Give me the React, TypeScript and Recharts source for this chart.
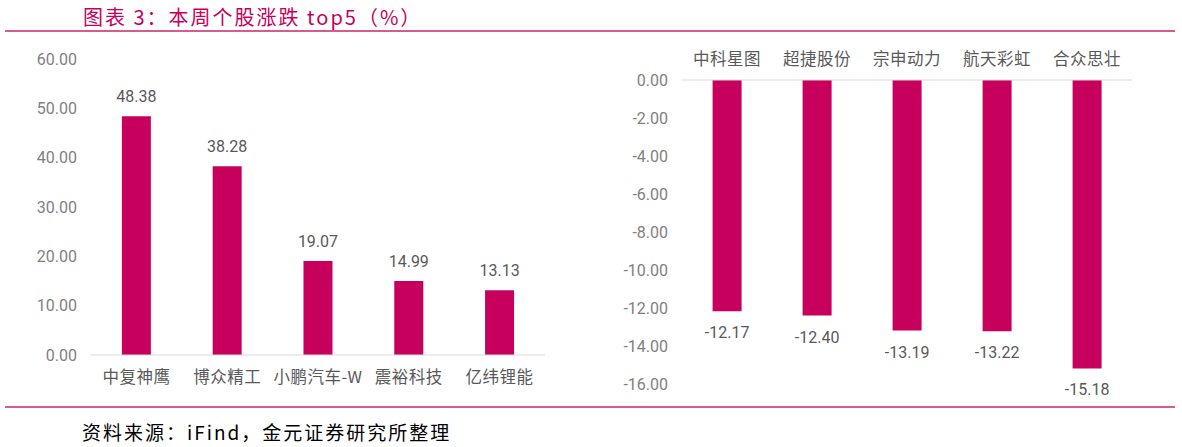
import { BarChart, Bar, XAxis, YAxis, LabelList } from 'recharts';

const gainNames = ['中复神鹰', '博众精工', '小鹏汽车-W', '震裕科技', '亿纬锂能'];
const gainValues = [48.38, 38.28, 19.07, 14.99, 13.13];
const gainTicks = [0, 10, 20, 30, 40, 50, 60];

const lossNames = ['中科星图', '超捷股份', '宗申动力', '航天彩虹', '合众思壮'];
const lossValues = [-12.17, -12.4, -13.19, -13.22, -15.18];
const lossTicks = [0, -2, -4, -6, -8, -10, -12, -14, -16];

const BAR = '#C7005D';
const PINK_LINE = '#D85A8E';
const NUM_FONT = 'Roboto, "Liberation Sans", sans-serif';
const CJK_FONT = '"Noto Sans CJK SC", sans-serif';

const gainData = gainNames.map((name, i) => ({ name, value: gainValues[i] }));
const lossData = lossNames.map((name, i) => ({ name, value: lossValues[i] }));

// label above positive bars, below negative ones
const BarLabel = (props: any) => {
  const { x, y, width, height, value } = props;
  const top = Math.min(y, y + height);
  const bottom = Math.max(y, y + height);
  const ty = value >= 0 ? top - 14 : bottom + 27;
  return (
    <text x={x + width / 2} y={ty} textAnchor="middle" fill="#595959" fontSize={16} fontFamily={NUM_FONT}>
      {value.toFixed(2)}
    </text>
  );
};

const tickStyle = { fill: '#7F7F7F', fontSize: 16, fontFamily: NUM_FONT };
const catStyle = { fill: '#595959', fontSize: 16.5, fontFamily: CJK_FONT, letterSpacing: 0.5 };

export default function App() {
  return (
    <div style={{ position: 'fixed', left: 0, top: 0, width: 1182, height: 447, background: '#fff' }}>
      <div
        style={{
          position: 'absolute', left: 83, top: 4, fontSize: 20, color: '#C8005A', letterSpacing: 2,
          fontFamily: CJK_FONT, whiteSpace: 'nowrap', lineHeight: '26px',
        }}
      >
        图表 3：本周个股涨跌 top5（%）
      </div>
      <div style={{ position: 'absolute', left: 5, top: 30, width: 1170, height: 2, background: PINK_LINE }} />

      <div style={{ position: 'absolute', left: 0, top: 0 }}>
        <BarChart width={590} height={400} data={gainData} margin={{ top: 59, right: 45, bottom: 5, left: 0 }} barCategoryGap="34%">
          <XAxis
            dataKey="name"
            height={40}
            tickLine={false}
            axisLine={{ stroke: '#D9D9D9' }}
            tick={catStyle}
            tickMargin={10}
            interval={0}
          />
          <YAxis
            width={91}
            domain={[0, 60]}
            ticks={gainTicks}
            axisLine={false}
            tickLine={false}
            tickMargin={8}
            tick={tickStyle}
            tickFormatter={(v: number) => v.toFixed(2)}
          />
          <Bar dataKey="value" fill={BAR} isAnimationActive={false}>
            <LabelList dataKey="value" content={BarLabel} />
          </Bar>
        </BarChart>
      </div>

      <div style={{ position: 'absolute', left: 590, top: 0 }}>
        <BarChart width={592} height={400} data={lossData} margin={{ top: 30, right: 50, bottom: 16, left: 0 }} barCategoryGap="34%">
          <XAxis
            dataKey="name"
            orientation="top"
            height={50}
            tickLine={false}
            axisLine={{ stroke: '#D9D9D9' }}
            tick={catStyle}
            tickMargin={9}
            interval={0}
          />
          <YAxis
            width={92}
            domain={[-16, 0]}
            ticks={lossTicks}
            axisLine={false}
            tickLine={false}
            tickMargin={8}
            tick={tickStyle}
            tickFormatter={(v: number) => v.toFixed(2)}
          />
          <Bar dataKey="value" fill={BAR} isAnimationActive={false}>
            <LabelList dataKey="value" content={BarLabel} />
          </Bar>
        </BarChart>
      </div>

      <div style={{ position: 'absolute', left: 5, top: 406, width: 1170, height: 2, background: PINK_LINE }} />
      <div
        style={{
          position: 'absolute', left: 82, top: 419, fontSize: 19, color: '#000', letterSpacing: 2,
          fontFamily: CJK_FONT, whiteSpace: 'nowrap', lineHeight: '26px',
        }}
      >
        资料来源：iFind，金元证券研究所整理
      </div>
    </div>
  );
}
